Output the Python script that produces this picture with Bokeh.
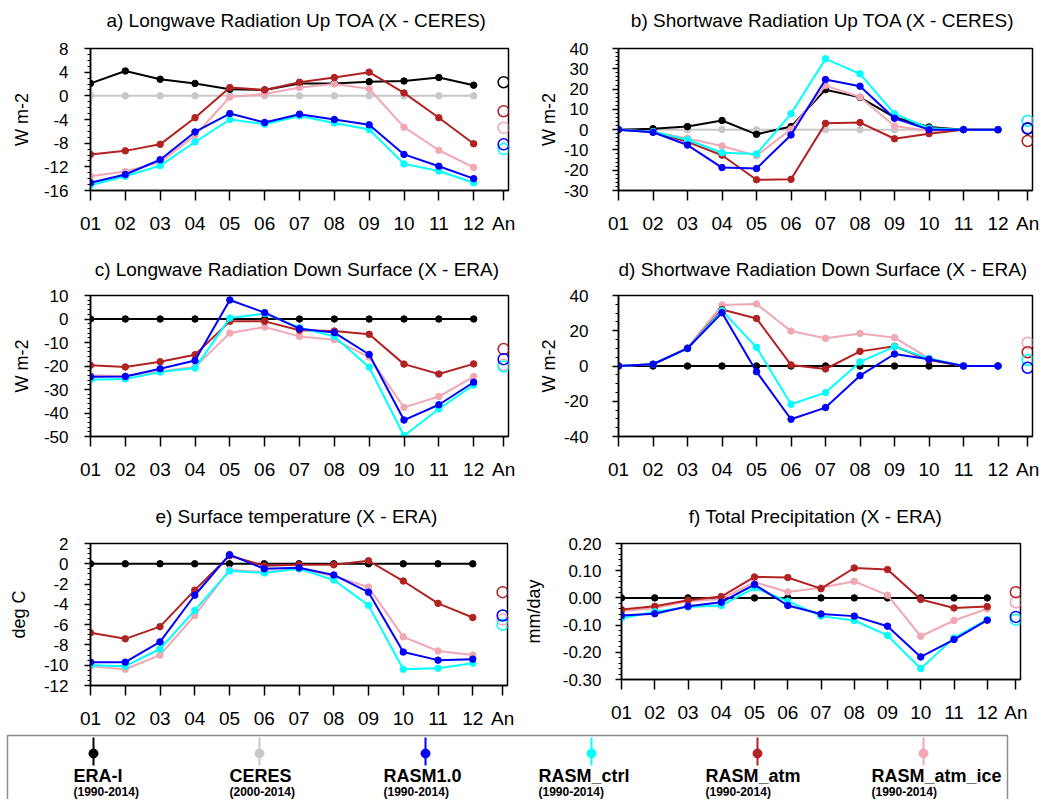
import numpy as np
from bokeh.plotting import figure
from bokeh.layouts import column, row
from bokeh.models import Range1d, FixedTicker, PrintfTickFormatter
from bokeh.embed import file_html
from bokeh.resources import INLINE
from bokeh.core.properties import value

# ---------------- data ----------------
month_labels = ["01", "02", "03", "04", "05", "06", "07", "08", "09", "10", "11", "12"]
annual_label = "An"

series_names = ["ERA-I", "CERES", "RASM1.0", "RASM_ctrl", "RASM_atm", "RASM_atm_ice"]
series_periods = ["(1990-2014)", "(2000-2014)", "(1990-2014)", "(1990-2014)", "(1990-2014)", "(1990-2014)"]
series_colors = ["#000000", "#c8c8c8", "#0000ff", "#00ffff", "#b22222", "#f0a8b4"]

# a) Longwave Radiation Up TOA (X - CERES), W m-2
a_era = [2.1, 4.2, 2.8, 2.1, 1.1, 1.0, 2.1, 2.1, 2.4, 2.5, 3.1, 1.8]
a_ceres = [0, 0, 0, 0, 0, 0, 0, 0, 0, 0, 0, 0]
a_rasm10 = [-14.7, -13.3, -10.8, -6.1, -3.0, -4.5, -3.1, -4.0, -4.9, -9.9, -11.9, -14.0]
a_ctrl = [-15.1, -13.6, -11.8, -7.8, -4.0, -4.8, -3.4, -4.6, -5.7, -11.5, -12.7, -14.7]
a_atm = [-9.9, -9.3, -8.2, -3.7, 1.4, 1.0, 2.3, 3.1, 4.0, 0.5, -3.7, -8.1]
a_atmice = [-13.6, -12.8, -11.2, -6.7, -0.2, 0.3, 1.4, 2.0, 1.2, -5.3, -9.2, -12.1]
a_annual = [2.3, None, -8.2, -9.0, -2.6, -5.4]

# b) Shortwave Radiation Up TOA (X - CERES), W m-2
b_era = [0.0, 0.5, 1.5, 4.5, -2.3, 1.5, 19.7, 15.9, 6.1, 1.3, 0.0, 0.0]
b_ceres = [0, 0, 0, 0, 0, 0, 0, 0, 0, 0, 0, 0]
b_rasm10 = [0.0, -1.3, -7.6, -18.7, -19.2, -2.6, 24.7, 21.4, 5.6, 0.0, 0.0, 0.0]
b_ctrl = [0.0, -1.0, -5.0, -11.4, -12.0, 7.8, 34.9, 27.5, 7.8, 0.7, 0.0, 0.0]
b_atm = [0.0, -1.2, -6.0, -12.6, -24.7, -24.5, 3.1, 3.5, -4.5, -2.0, 0.0, 0.0]
b_atmice = [0.0, -1.0, -4.3, -8.1, -12.9, 0.2, 21.7, 16.1, 1.8, -0.7, 0.0, 0.0]
b_annual = [0.5, None, 0.7, 4.3, -5.6, 4.3]

# c) Longwave Radiation Down Surface (X - ERA), W m-2
c_era = [0, 0, 0, 0, 0, 0, 0, 0, 0, 0, 0, 0]
c_rasm10 = [-24.6, -24.5, -21.2, -17.7, 8.1, 2.7, -4.1, -5.8, -15.1, -43.0, -36.5, -26.9]
c_ctrl = [-25.8, -25.5, -22.6, -20.9, 0.4, 2.3, -3.7, -7.4, -20.5, -49.7, -38.3, -28.1]
c_atm = [-19.7, -20.4, -18.2, -15.2, -1.0, -1.0, -4.8, -5.1, -6.5, -19.2, -23.4, -19.1]
c_atmice = [-23.9, -24.3, -22.2, -20.4, -6.0, -3.4, -7.4, -8.8, -16.2, -37.6, -33.0, -24.5]
c_annual = [None, None, -17.1, -20.2, -12.8, -19.5]

# d) Shortwave Radiation Down Surface (X - ERA), W m-2
d_era = [0, 0, 0, 0, 0, 0, 0, 0, 0, 0, 0, 0]
d_rasm10 = [0.0, 1.0, 10.0, 30.2, -3.2, -30.2, -23.6, -5.5, 6.8, 3.8, 0.0, 0.0]
d_ctrl = [0.0, 1.0, 10.0, 31.4, 10.6, -21.7, -15.1, 2.3, 11.0, 4.2, 0.0, 0.0]
d_atm = [0.0, 1.0, 10.0, 32.1, 27.0, 0.6, -1.7, 8.3, 11.2, 3.4, 0.0, 0.0]
d_atmice = [0.0, 1.0, 10.4, 34.6, 35.2, 19.8, 15.7, 18.5, 16.1, 4.3, 0.0, 0.0]
d_annual = [None, None, -1.0, 3.4, 7.8, 13.2]

# e) Surface temperature (X - ERA), deg C
e_era = [0, 0, 0, 0, 0, 0, 0, 0, 0, 0, 0, 0]
e_rasm10 = [-9.7, -9.7, -7.7, -3.1, 0.9, -0.5, -0.4, -1.1, -2.8, -8.7, -9.5, -9.4]
e_ctrl = [-10.0, -10.1, -8.4, -4.6, -0.7, -0.9, -0.5, -1.6, -4.1, -10.4, -10.3, -9.8]
e_atm = [-6.8, -7.4, -6.2, -2.6, 0.8, -0.2, -0.1, -0.1, 0.3, -1.7, -3.9, -5.3]
e_atmice = [-10.1, -10.4, -9.0, -5.1, -0.6, -0.8, -0.5, -1.2, -2.3, -7.2, -8.6, -9.0]
e_annual = [None, None, -5.1, -6.0, -2.8, -5.5]

# f) Total Precipitation (X - ERA), mm/day
f_era = [0, 0, 0, 0, 0, 0, 0, 0, 0, 0, 0, 0]
f_rasm10 = [-0.065, -0.058, -0.031, -0.016, 0.049, -0.028, -0.059, -0.067, -0.104, -0.217, -0.153, -0.082]
f_ctrl = [-0.075, -0.051, -0.033, -0.028, 0.037, -0.012, -0.067, -0.083, -0.138, -0.260, -0.147, -0.080]
f_atm = [-0.043, -0.031, -0.009, 0.005, 0.077, 0.075, 0.034, 0.110, 0.104, -0.006, -0.037, -0.032]
f_atmice = [-0.049, -0.037, -0.012, -0.004, 0.058, 0.022, 0.037, 0.061, 0.010, -0.141, -0.083, -0.040]
f_annual = [None, None, -0.070, -0.080, 0.021, -0.016]

# ---------------- layout ----------------
FONT = "Liberation Sans"
PAGE_W = 1056
month_x = list(range(1, 13))
annual_x = 12.86  # position of the annual-mean category
draw_order = [1, 0, 5, 4, 3, 2]

panels = [
    dict(title="a)  Longwave Radiation Up TOA (X - CERES)", ylabel="W m-2",
         data=[a_era, a_ceres, a_rasm10, a_ctrl, a_atm, a_atmice], annual=a_annual,
         yr=(-16, 8), major=4, minor=1, fmt="%d",
         fw=418, fh=142, bl=90, br=12, bt=12, bb=66, lstand=16, astand=9),
    dict(title="b)  Shortwave Radiation Up TOA (X - CERES)", ylabel="W m-2",
         data=[b_era, b_ceres, b_rasm10, b_ctrl, b_atm, b_atmice], annual=b_annual,
         yr=(-30, 40), major=10, minor=2, fmt="%d",
         fw=414, fh=142, bl=98, br=24, bt=12, bb=66, lstand=24, astand=2),
    dict(title="c)  Longwave Radiation Down Surface (X - ERA)", ylabel="W m-2",
         data=[c_era, None, c_rasm10, c_ctrl, c_atm, c_atmice], annual=c_annual,
         yr=(-50, 10), major=10, minor=2, fmt="%d",
         fw=418, fh=141, bl=90, br=12, bt=12, bb=66, lstand=16, astand=9),
    dict(title="d)  Shortwave Radiation Down Surface (X - ERA)", ylabel="W m-2",
         data=[d_era, None, d_rasm10, d_ctrl, d_atm, d_atmice], annual=d_annual,
         yr=(-40, 40), major=20, minor=5, fmt="%d",
         fw=414, fh=141, bl=98, br=24, bt=12, bb=66, lstand=24, astand=2),
    dict(title="e)  Surface temperature (X - ERA)", ylabel="deg C",
         data=[e_era, None, e_rasm10, e_ctrl, e_atm, e_atmice], annual=e_annual,
         yr=(-12, 2), major=2, minor=0.5, fmt="%d",
         fw=417, fh=142, bl=90, br=13, bt=12, bb=50, lstand=16, astand=12),
    dict(title="f)  Total Precipitation (X - ERA)", ylabel="mm/day",
         data=[f_era, None, f_rasm10, f_ctrl, f_atm, f_atmice], annual=f_annual,
         yr=(-0.30, 0.20), major=0.10, minor=0.02, fmt="%.2f",
         fw=399, fh=136, bl=98, br=39, bt=14, bb=54, lstand=14, astand=16),
]

# title strips: (strip height, title centre y within strip) for each row of panels
strips = [(36, 20), (27, 13), (27, 14)]
col_x0 = [0, 520]  # left edge of each column
INK = "#000000"


def ticks(lo, hi, step):
    n = int(round((hi - lo) / step))
    return [float(np.round(lo + k * step, 4)) + 0.0 for k in range(n + 1)]


def blank_fig(h):
    f = figure(frame_width=PAGE_W, frame_height=h, x_range=Range1d(0, PAGE_W),
               y_range=Range1d(h, 0), toolbar_location=None, output_backend="svg",
               min_border=0)
    f.axis.visible = False
    f.grid.visible = False
    f.outline_line_color = None
    f.background_fill_color = "white"
    f.border_fill_color = "white"
    return f


def make_strip(k):
    h, ty = strips[k]
    s = blank_fig(h)
    cfgs = panels[2 * k: 2 * k + 2]
    xs = [col_x0[j] + c["bl"] + c["fw"] / 2 for j, c in enumerate(cfgs)]
    s.text(xs, [ty, ty], text=[c["title"] for c in cfgs], text_font=value(FONT),
           text_font_size="19px", text_align="center", text_baseline="middle",
           text_color=INK)
    return s


def make_panel(cfg):
    p = figure(frame_width=cfg["fw"], frame_height=cfg["fh"],
               x_range=Range1d(1, 13), y_range=Range1d(*cfg["yr"]),
               toolbar_location=None, output_backend="svg",
               min_border_left=cfg["bl"], min_border_right=cfg["br"],
               min_border_top=cfg["bt"], min_border_bottom=cfg["bb"])
    p.grid.visible = False
    p.background_fill_color = "white"
    p.border_fill_color = "white"
    p.outline_line_color = INK
    p.outline_line_width = 1.5

    xa = p.xaxis[0]
    xa.ticker = FixedTicker(ticks=month_x + [annual_x])
    ov = {m: lab for m, lab in zip(month_x, month_labels)}
    ov[annual_x] = annual_label
    xa.major_label_overrides = ov
    xa.major_tick_in = 0
    xa.major_tick_out = 10
    xa.minor_tick_out = 0
    xa.major_tick_line_width = 1.5
    xa.major_tick_line_color = INK
    xa.axis_line_width = 1.5
    xa.axis_line_color = INK
    xa.major_label_text_font = FONT
    xa.major_label_text_font_size = "19px"
    xa.major_label_text_color = INK
    xa.major_label_standoff = 12

    ya = p.yaxis[0]
    lo, hi = cfg["yr"]
    ya.ticker = FixedTicker(ticks=ticks(lo, hi, cfg["major"]),
                            minor_ticks=ticks(lo, hi, cfg["minor"]))
    ya.formatter = PrintfTickFormatter(format=cfg["fmt"])
    ya.major_tick_in = 0
    ya.major_tick_out = 6
    ya.minor_tick_in = 0
    ya.minor_tick_out = 3
    ya.major_tick_line_width = 1.5
    ya.major_tick_line_color = INK
    ya.minor_tick_line_color = INK
    ya.axis_line_width = 1.5
    ya.axis_line_color = INK
    ya.major_label_text_font = FONT
    ya.major_label_text_font_size = "17px"
    ya.major_label_text_color = INK
    ya.major_label_standoff = cfg["lstand"]
    ya.axis_label = cfg["ylabel"]
    ya.axis_label_text_font = FONT
    ya.axis_label_text_font_size = "18px"
    ya.axis_label_text_font_style = "normal"
    ya.axis_label_text_color = INK
    ya.axis_label_standoff = cfg["astand"]

    for i in draw_order:
        vals = cfg["data"][i]
        if vals is None:
            continue
        col = series_colors[i]
        p.line(month_x, vals, line_color=col, line_width=2)
        p.scatter(month_x, vals, size=6.5, fill_color=col, line_color=col)
    for i in draw_order:
        a = cfg["annual"][i]
        if a is None:
            continue
        p.scatter([annual_x], [a], marker="circle", size=11, fill_color=None,
                  line_color=series_colors[i], line_width=1.5)
    return p


figs = [make_panel(c) for c in panels]

# ---------------- legend ----------------
LH = 66
lg = blank_fig(LH)
lg.quad(left=7, right=1007, top=2, bottom=LH + 10, fill_color=None,
        line_color="#8c8c8c", line_width=1.5)

mx = [93 + 166 * k for k in range(len(series_names))]
text_dx = [-20, -30, -42, -53, -52, -52]
lg.segment(x0=mx, y0=[4] * 6, x1=mx, y1=[32] * 6, line_color=series_colors, line_width=2)
lg.scatter(mx, [20] * 6, size=9, fill_color=series_colors, line_color=series_colors)
tx = [m + d for m, d in zip(mx, text_dx)]
lg.text(tx, [42] * 6, text=series_names, text_font=value(FONT),
        text_font_style="bold", text_font_size="18px", text_baseline="middle",
        text_align="left", text_color=INK)
lg.text(tx, [58] * 6, text=series_periods, text_font=value(FONT),
        text_font_style="bold", text_font_size="12px", text_baseline="middle",
        text_align="left", text_color=INK)

layout = column(make_strip(0), row(figs[0], figs[1]),
                make_strip(1), row(figs[2], figs[3]),
                make_strip(2), row(figs[4], figs[5]), lg)

open("out.html", "w").write(file_html(layout, INLINE))
